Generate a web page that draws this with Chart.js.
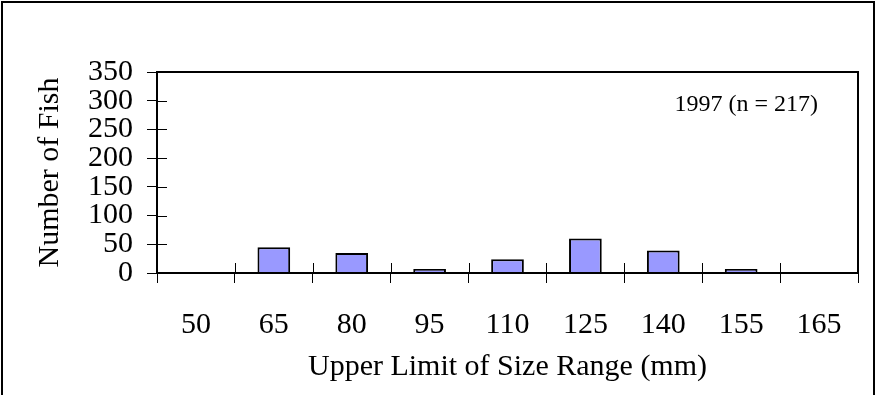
<!DOCTYPE html>
<html>
<head>
<meta charset="utf-8">
<script src="https://cdn.jsdelivr.net/npm/chart.js@4.4.0/dist/chart.umd.min.js"></script>
<style>
html, body { margin: 0; padding: 0; background: #fff; }
</style>
</head>
<body>
<canvas id="myChart" width="876" height="395"></canvas>
<script>
// data
var sizeLabels = ['50', '65', '80', '95', '110', '125', '140', '155', '165'];
var fishCounts = [0, 45, 35, 7, 24, 60, 39, 7, 0];
var yTicks = [0, 50, 100, 150, 200, 250, 300, 350];
var noteText = '1997 (n = 217)';

var serif = "'Liberation Serif', 'Times New Roman', serif";

// frame, plot border, inner halves of the cross ticks, note
var framePlugin = {
    id: 'frame',
    afterDraw: function(chart) {
        var c = chart.ctx;
        var a = chart.chartArea;
        var xs = chart.scales.x;
        var ys = chart.scales.y;
        c.save();
        c.strokeStyle = '#000';
        c.lineWidth = 1;
        c.beginPath();
        for (var i = 1; i < sizeLabels.length; i++) {
            var px = Math.round(xs.getPixelForValue(i - 0.5)) + 0.5;
            c.moveTo(px, a.bottom - 10);
            c.lineTo(px, a.bottom);
        }
        for (var j = 1; j < yTicks.length - 1; j++) {
            var py = Math.round(ys.getPixelForValue(yTicks[j])) + 0.5;
            c.moveTo(a.left, py);
            c.lineTo(a.left + 10, py);
        }
        c.stroke();

        c.lineWidth = 2;
        c.strokeRect(Math.round(a.left), Math.round(a.top), Math.round(a.right - a.left), Math.round(a.bottom - a.top));
        c.strokeRect(2, 2, chart.width - 4, chart.height + 10);

        c.fillStyle = '#000';
        c.font = '24px ' + serif;
        c.textAlign = 'right';
        c.textBaseline = 'middle';
        c.fillText(noteText, a.right - 40, a.top + 33);
        c.restore();
    }
};

var myChart = new Chart(document.getElementById('myChart'), {
    type: 'bar',
    data: {
        labels: sizeLabels,
        datasets: [{
            data: fishCounts,
            backgroundColor: '#9999FF',
            borderColor: '#000',
            borderWidth: 2,
            barPercentage: 0.42,
            categoryPercentage: 1
        }]
    },
    options: {
        responsive: false,
        animation: false,
        devicePixelRatio: 1,
        layout: { padding: { top: 72, right: 18, left: 0, bottom: 0 } },
        plugins: {
            legend: { display: false },
            tooltip: { enabled: false }
        },
        scales: {
            x: {
                offset: true,
                grid: { display: true, offset: true, drawOnChartArea: false, drawTicks: true, tickLength: 10, color: '#000', lineWidth: 1 },
                border: { display: false },
                ticks: { color: '#000', font: { family: serif, size: 30 }, padding: 24, maxRotation: 0, autoSkip: false },
                title: { display: true, text: 'Upper Limit of Size Range (mm)', color: '#000', font: { family: serif, size: 30 }, padding: { top: 0, bottom: 10 } },
                afterFit: function(s) { s.height = 122; }
            },
            y: {
                min: 0,
                max: 350,
                afterBuildTicks: function(s) { s.ticks = yTicks.map(function(v) { return { value: v }; }); },
                grid: { display: true, drawOnChartArea: false, drawTicks: true, tickLength: 10, color: '#000', lineWidth: 1 },
                border: { display: false },
                ticks: { color: '#000', font: { family: serif, size: 30, lineHeight: 1 }, padding: 14, autoSkip: false },
                title: { display: true, text: 'Number of Fish', color: '#000', font: { family: serif, size: 30 }, padding: { top: 32, bottom: 0 } },
                afterFit: function(s) { s.width = 157; }
            }
        }
    },
    plugins: [framePlugin]
});
</script>
</body>
</html>
